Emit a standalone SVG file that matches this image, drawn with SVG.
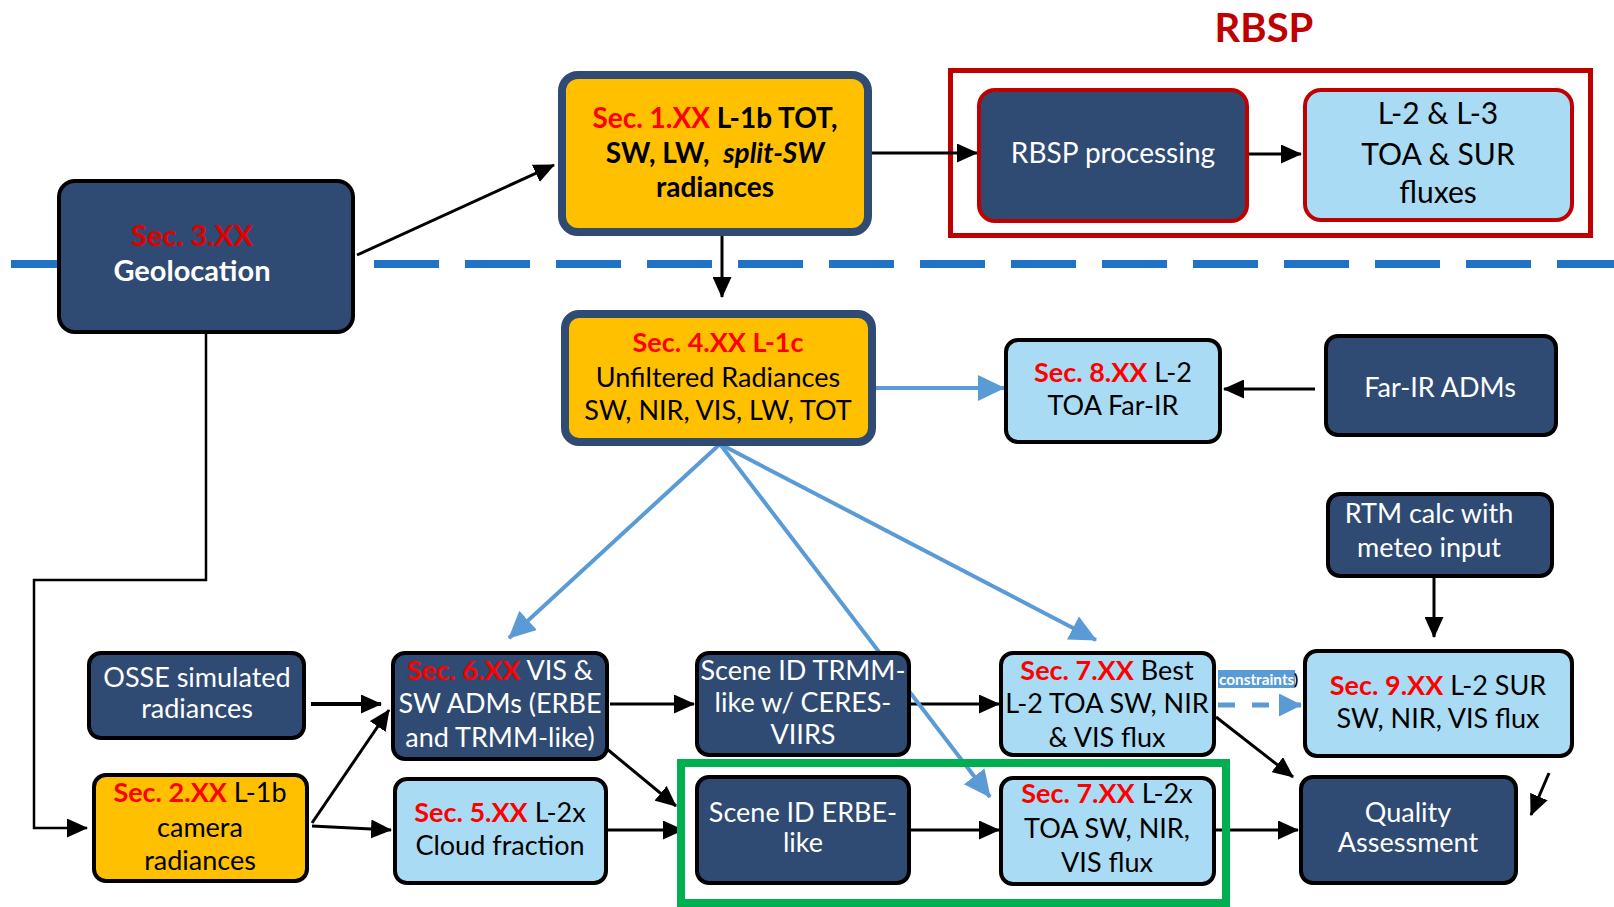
<svg xmlns="http://www.w3.org/2000/svg" width="1614" height="907" viewBox="0 0 1614 907">
<style>
.nav{fill:#2F4B73;stroke:#000;stroke-width:4}
.lb{fill:#A9DCF4;stroke:#000;stroke-width:4}
.yl{fill:#FFC000;stroke:#000;stroke-width:4}
.t{font-family:Lato,'Open Sans','Liberation Sans',sans-serif;font-size:27px;text-anchor:middle}
.w{fill:#fff}
.k{fill:#000}
.r{fill:#FF0000;font-weight:bold}
.b{font-weight:bold}
.ck{stroke:#000;stroke-width:3;fill:none;marker-end:url(#ah)}
.cb{stroke:#5B9BD5;stroke-width:4;fill:none;marker-end:url(#ahb)}
</style>
<defs>
<marker id="ah" markerUnits="userSpaceOnUse" markerWidth="21" markerHeight="19" viewBox="0 0 21 19" refX="20" refY="9.5" orient="auto"><path d="M0,0 L21,9.5 L0,19 z" fill="#000"/></marker>
<marker id="ahb" markerUnits="userSpaceOnUse" markerWidth="27" markerHeight="26" viewBox="0 0 27 26" refX="26" refY="13" orient="auto"><path d="M0,0 L27,13 L0,26 z" fill="#5B9BD5"/></marker>
<marker id="ahs" markerUnits="userSpaceOnUse" markerWidth="23" markerHeight="23" viewBox="0 0 23 23" refX="22" refY="11.5" orient="auto"><path d="M0,0 L23,11.5 L0,23 z" fill="#5B9BD5"/></marker>
</defs>

<g id="divider">
<line x1="11" y1="264" x2="60" y2="264" stroke="#1F72C4" stroke-width="8"/>
<line x1="374" y1="264" x2="1614" y2="264" stroke="#1F72C4" stroke-width="8" stroke-dasharray="65 26"/>
</g>

<g id="rbsp-group">
<rect x="950.5" y="70.5" width="640" height="165" fill="none" stroke="#C00000" stroke-width="5"/>
<text class="t b" x="1264" y="42" style="font-size:40px;fill:#C00000">RBSP</text>
</g>

<g id="connectors">
<line class="ck" x1="357" y1="255" x2="554" y2="165"/>
<line class="ck" x1="722" y1="236" x2="722" y2="297"/>
<line class="ck" x1="870" y1="153" x2="977" y2="153"/>
<line class="ck" x1="1249" y1="154" x2="1301" y2="154"/>
<line class="ck" x1="1315" y1="389" x2="1224" y2="389"/>
<path d="M206,334 V580 H34 V828 H87" stroke="#000" stroke-width="2.5" fill="none" marker-end="url(#ah)"/>
<line class="ck" x1="1434" y1="578" x2="1434" y2="637"/>
<line class="ck" x1="311" y1="704" x2="381" y2="704" style="stroke-width:4"/>
<line class="ck" x1="312" y1="823" x2="389" y2="710"/>
<line class="ck" x1="312" y1="826" x2="391" y2="830"/>
<line class="ck" x1="610" y1="704" x2="694" y2="704"/>
<line class="ck" x1="607" y1="749" x2="676" y2="806"/>
<line class="ck" x1="608" y1="830" x2="683" y2="830"/>
<line class="ck" x1="911" y1="704" x2="999" y2="704"/>
<line class="ck" x1="911" y1="830" x2="999" y2="830"/>
<line class="ck" x1="1216" y1="717" x2="1293" y2="777"/>
<line class="ck" x1="1215" y1="830" x2="1298" y2="830"/>
<line class="ck" x1="1549" y1="773" x2="1531" y2="815"/>
<line class="cb" x1="876" y1="388" x2="1004" y2="388"/>
<line class="cb" x1="720" y1="444" x2="509" y2="638"/>
<line class="cb" x1="720" y1="444" x2="990" y2="797"/>
<line class="cb" x1="720" y1="444" x2="1096" y2="640"/>
<line x1="1218" y1="705" x2="1301" y2="705" stroke="#5B9BD5" stroke-width="5" stroke-dasharray="17 17" marker-end="url(#ahs)"/>
<rect x="1218" y="670" width="77" height="18" fill="#5B9BD5"/>
<text class="t b" x="1219" y="685" style="font-size:15px;text-anchor:start"><tspan fill="#fff" textLength="75" lengthAdjust="spacingAndGlyphs">constraints</tspan><tspan fill="#000">)</tspan></text>
</g>

<g id="green-frame">
<rect x="681" y="763" width="545" height="140" fill="none" stroke="#00B050" stroke-width="8"/>
</g>

<g id="n-geolocation">
<rect class="nav" x="59" y="181" width="294" height="151" rx="16"/>
<text class="t b" x="192" y="246" style="font-size:29px;fill:#E00000">Sec. 3.XX</text>
<text class="t b w" x="192" y="281" style="font-size:29px">Geolocation</text>
</g>

<g id="n-sec1">
<rect x="562" y="75" width="306" height="157" rx="16" fill="#FFC000" stroke="#2F4B73" stroke-width="8"/>
<text class="t b k" x="715" y="128" style="font-size:28px"><tspan fill="#FF0000">Sec. 1.XX</tspan> L-1b TOT,</text>
<text class="t b k" x="715" y="163" style="font-size:28px" xml:space="preserve">SW, LW,  <tspan font-style="italic">split-SW</tspan></text>
<text class="t b k" x="715" y="197" style="font-size:28px">radiances</text>
</g>

<g id="n-rbsp-processing">
<rect x="979" y="90" width="268" height="131" rx="16" fill="#2F4B73" stroke="#C00000" stroke-width="4"/>
<text class="t w" x="1113" y="163" style="font-size:28px">RBSP processing</text>
</g>

<g id="n-l2l3">
<rect x="1305" y="90" width="267" height="130" rx="16" fill="#A9DCF4" stroke="#C00000" stroke-width="4"/>
<text class="t k" x="1438" y="124" style="font-size:30px">L-2 &amp; L-3</text>
<text class="t k" x="1438" y="165" style="font-size:30px">TOA &amp; SUR</text>
<text class="t k" x="1438" y="203" style="font-size:30px">fluxes</text>
</g>

<g id="n-sec4">
<rect x="565" y="314" width="307" height="128" rx="14" fill="#FFC000" stroke="#2F4B73" stroke-width="8"/>
<text class="t r" x="718" y="352">Sec. 4.XX L-1c</text>
<text class="t k" x="718" y="387">Unfiltered Radiances</text>
<text class="t k" x="718" y="420">SW, NIR, VIS, LW, TOT</text>
</g>

<g id="n-sec8">
<rect class="lb" x="1006" y="340" width="214" height="102" rx="12"/>
<text class="t k" x="1113" y="382"><tspan class="r">Sec. 8.XX</tspan> L-2</text>
<text class="t k" x="1113" y="415">TOA Far-IR</text>
</g>

<g id="n-farir">
<rect class="nav" x="1326" y="336" width="230" height="99" rx="12"/>
<text class="t w" x="1440" y="397">Far-IR ADMs</text>
</g>

<g id="n-rtm">
<rect class="nav" x="1328" y="494" width="224" height="82" rx="12"/>
<text class="t w" x="1429" y="523">RTM calc with</text>
<text class="t w" x="1429" y="557">meteo input</text>
</g>

<g id="n-osse">
<rect class="nav" x="89" y="653" width="215" height="85" rx="12"/>
<text class="t w" x="197" y="687">OSSE simulated</text>
<text class="t w" x="197" y="718">radiances</text>
</g>

<g id="n-sec2">
<rect class="yl" x="94" y="775" width="213" height="106" rx="12"/>
<text class="t k" x="200" y="802"><tspan class="r">Sec. 2.XX</tspan> L-1b</text>
<text class="t k" x="200" y="837">camera</text>
<text class="t k" x="200" y="870">radiances</text>
</g>

<g id="n-sec6">
<rect class="nav" x="393" y="653" width="214" height="106" rx="12"/>
<text class="t w" x="500" y="680"><tspan class="r">Sec. 6.XX</tspan> VIS &amp;</text>
<text class="t w" x="500" y="713">SW ADMs (ERBE</text>
<text class="t w" x="500" y="747">and TRMM-like)</text>
</g>

<g id="n-sec5">
<rect class="lb" x="395" y="779" width="211" height="104" rx="12"/>
<text class="t k" x="500" y="822"><tspan class="r">Sec. 5.XX</tspan> L-2x</text>
<text class="t k" x="500" y="855">Cloud fraction</text>
</g>

<g id="n-scene-trmm">
<rect class="nav" x="697" y="653" width="212" height="102" rx="12"/>
<text class="t w" x="803" y="680">Scene ID TRMM-</text>
<text class="t w" x="803" y="712">like w/ CERES-</text>
<text class="t w" x="803" y="744">VIIRS</text>
</g>

<g id="n-scene-erbe">
<rect class="nav" x="697" y="777" width="212" height="106" rx="12"/>
<text class="t w" x="803" y="822">Scene ID ERBE-</text>
<text class="t w" x="803" y="852">like</text>
</g>

<g id="n-sec7-best">
<rect class="lb" x="1001" y="653" width="213" height="102" rx="12"/>
<text class="t k" x="1107" y="680"><tspan class="r">Sec. 7.XX</tspan> Best</text>
<text class="t k" x="1107" y="713">L-2 TOA SW, NIR</text>
<text class="t k" x="1107" y="747">&amp; VIS flux</text>
</g>

<g id="n-sec7-l2x">
<rect class="lb" x="1001" y="778" width="213" height="106" rx="12"/>
<text class="t k" x="1107" y="803"><tspan class="r">Sec. 7.XX</tspan> L-2x</text>
<text class="t k" x="1107" y="838">TOA SW, NIR,</text>
<text class="t k" x="1107" y="872">VIS flux</text>
</g>

<g id="n-sec9">
<rect class="lb" x="1305" y="651" width="267" height="105" rx="12"/>
<text class="t k" x="1438" y="695"><tspan class="r">Sec. 9.XX</tspan> L-2 SUR</text>
<text class="t k" x="1438" y="728">SW, NIR, VIS flux</text>
</g>

<g id="n-qa">
<rect class="nav" x="1301" y="777" width="215" height="106" rx="12"/>
<text class="t w" x="1408" y="822">Quality</text>
<text class="t w" x="1408" y="852">Assessment</text>
</g>
</svg>
